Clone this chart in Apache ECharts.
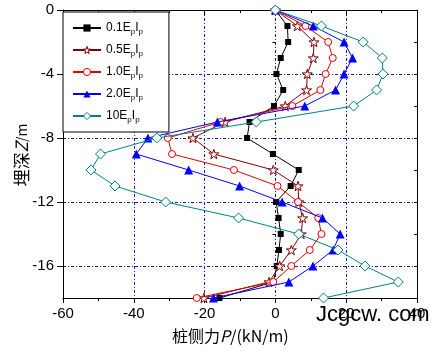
<!DOCTYPE html>
<html>
<head>
<meta charset="utf-8">
<script src="https://cdn.jsdelivr.net/npm/echarts@6/dist/echarts.min.js"></script>
<style>html,body{margin:0;padding:0;background:#fff;}#c{width:442px;height:355px;}</style>
</head>
<body>
<div id="c"></div>
<script>
// Depth Z (m)
const depths = [0,-1,-2,-3,-4,-5,-6,-7,-8,-9,-10,-11,-12,-13,-14,-15,-16,-17,-18];
// Pile lateral force P (kN/m) per stiffness case
const p01E = [0,3.4,3.6,1.5,0.3,2.2,-0.4,-7.3,-8.0,-0.7,6.6,4.3,0.2,0.9,1.5,1.0,0.4,-0.6,-15.8];
const p05E = [0,6.2,10.9,10.7,9.0,8.8,2.8,-14.2,-23.3,-17.4,-0.6,6.4,6.6,7.7,7.3,4.5,1.2,-1.8,-20.2];
const p10E = [0,8.5,14.9,16.2,14.2,12.7,4.8,-15.5,-30.4,-29.2,-11.7,0.6,6.4,12.1,13.0,9.7,4.5,-0.6,-22.2];
const p20E = [0,10.7,19.4,21.8,19.4,17.0,8.3,-16.4,-36.0,-39.3,-24.5,-10.1,1.9,13.3,18.3,16.3,10.6,3.8,-17.5];
const p100E = [0,13.0,24.8,30.2,30.4,28.6,22.1,-5.4,-33.5,-49.4,-52.1,-45.3,-31.0,-10.4,6.6,17.7,25.3,34.7,13.6];
const coefs = ['0.1','0.5','1.0','2.0','10'];
const yTicks = [-16,-12,-8,-4,0];

const chart = echarts.init(document.getElementById('c'), null, {renderer:'canvas'});
const star = 'path://M50,0 L61,35 L98,35 L68,57 L79,91 L50,70 L21,91 L32,57 L2,35 L39,35 Z';
function pairs(arr){ return arr.map((v,i)=>[v, depths[i]]); }
const fontNum = 'Liberation Sans, Arial, sans-serif';
const gridLine = {show:true, lineStyle:{color:'#1a1ab0', width:1, type:[3,2,1,2]}};

const styles = [
  {data:p01E, symbol:'rect', size:6, line:'#000000', item:{color:'#000000', borderWidth:0}},
  {data:p05E, symbol:star, size:10, line:'#800000', item:{color:'#ffffff', borderColor:'#800000', borderWidth:1}},
  {data:p10E, symbol:'circle', size:7, line:'#e00000', item:{color:'#ffffff', borderColor:'#e00000', borderWidth:1}},
  {data:p20E, symbol:'triangle', size:9, line:'#0000ff', item:{color:'#0000ff', borderWidth:0}},
  {data:p100E, symbol:'diamond', size:10, line:'#008080', item:{color:'#ffffff', borderColor:'#008080', borderWidth:1}}
];

const series = styles.map((s,i)=>({
  type:'line', name:coefs[i], xAxisIndex:0, yAxisIndex:0,
  data:pairs(s.data), symbol:s.symbol, symbolSize:s.size, symbolKeepAspect:true,
  showAllSymbol:true, animation:false,
  lineStyle:{color:s.line, width:1}, itemStyle:s.item, z:3+i
}));

chart.setOption({
  animation:false,
  grid:{left:63, right:25, top:10, bottom:57},
  xAxis:[
    {type:'value', position:'bottom', min:-60, max:40, interval:20,
     axisLine:{show:true, onZero:false, lineStyle:{color:'#000', width:1}},
     axisTick:{show:true, inside:false, length:5, lineStyle:{color:'#000'}},
     minorTick:{show:true, splitNumber:2, length:3, lineStyle:{color:'#000'}},
     axisLabel:{color:'#000', fontSize:15, fontFamily:fontNum, margin:8},
     splitLine:gridLine},
    {type:'value', position:'top', min:-60, max:40, interval:20,
     axisLine:{show:true, onZero:false, lineStyle:{color:'#000', width:1}},
     axisTick:{show:true, inside:true, length:5, lineStyle:{color:'#000'}},
     minorTick:{show:true, splitNumber:2, length:3, lineStyle:{color:'#000'}},
     axisLabel:{show:false}, splitLine:{show:false}}
  ],
  yAxis:[
    {type:'value', position:'left', min:-18, max:0,
     axisLine:{show:true, onZero:false, lineStyle:{color:'#000', width:1}},
     axisTick:{show:true, inside:false, length:6, customValues:yTicks, lineStyle:{color:'#000'}},
     axisLabel:{color:'#000', fontSize:15, fontFamily:fontNum, margin:9, customValues:yTicks},
     splitLine:gridLine},
    {type:'value', position:'left', min:-18, max:0, interval:2,
     axisLine:{show:false},
     axisTick:{show:true, inside:false, length:3, lineStyle:{color:'#000'}},
     axisLabel:{show:false}, splitLine:{show:false}},
    {type:'value', position:'right', min:-18, max:0, interval:2,
     axisLine:{show:true, onZero:false, lineStyle:{color:'#000', width:1}},
     axisTick:{show:true, inside:true, length:3, lineStyle:{color:'#000'}},
     axisLabel:{show:false}, splitLine:{show:false}}
  ],
  legend:{
    orient:'vertical', left:63, top:12,
    backgroundColor:'#fff', borderColor:'#000', borderWidth:1,
    padding:[8,26,8,9], itemGap:6, itemWidth:28, itemHeight:9,
    data:coefs.map((c,i)=>({name:c, itemStyle:styles[i].item})),
    formatter:function(n){ return '{n|'+n+'E}{s|p}{n|I}{s|p}'; },
    textStyle:{color:'#000', fontFamily:fontNum, fontSize:12,
      rich:{ n:{fontSize:12, fontFamily:fontNum, color:'#000', lineHeight:14},
             s:{fontSize:8, fontFamily:fontNum, color:'#000', lineHeight:14, padding:[8,0,0,0]} }}
  },
  graphic:[
    {type:'text', left:172, top:328, z:10,
     style:{rich:{c:{fontFamily:'Noto Sans CJK SC', fontSize:16, fill:'#000'}, i:{fontFamily:'Noto Sans CJK SC', fontSize:16, fontStyle:'italic', fill:'#000'}},
       text:'{c|桩侧力}{i|P}{c|/(kN/m)}'}},
    {type:'text', x:22, y:155, rotation:Math.PI/2, z:10,
     style:{rich:{c:{fontFamily:'Noto Sans CJK SC', fontSize:17, fill:'#000'}, i:{fontFamily:'Noto Sans CJK SC', fontSize:17, fontStyle:'italic', fill:'#000'}, m:{fontFamily:'Noto Sans CJK SC', fontSize:14, fill:'#000'}},
       text:'{c|埋深}{i|Z}{m|/m}', align:'center', verticalAlign:'middle'}},
    {type:'text', left:316, top:304, z:10,
     style:{text:'Jcgcw. com', fontFamily:fontNum, fontSize:22, fill:'#000'}}
  ],
  series:series
});
</script>
</body>
</html>
